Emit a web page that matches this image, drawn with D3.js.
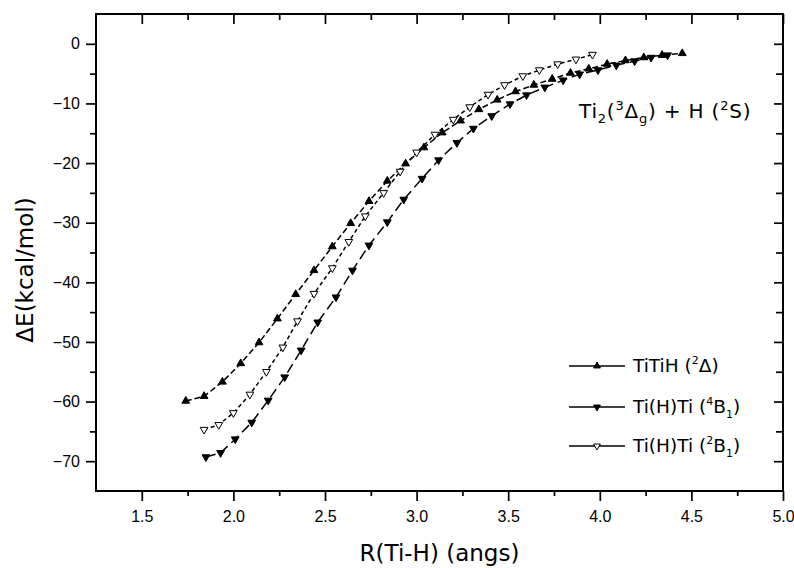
<!DOCTYPE html>
<html>
<head>
<meta charset="utf-8">
<script src="https://cdn.jsdelivr.net/npm/d3@7"></script>
<style>
  body { margin: 0; background: #fff; }
  svg { font-family: "DejaVu Sans", sans-serif; }
</style>
</head>
<body>
<svg id="chart"></svg>
<script>
// TiTiH (2Delta)
const titihR = [1.74, 1.84, 1.94, 2.04, 2.14, 2.24, 2.34, 2.44, 2.54, 2.64, 2.74, 2.84, 2.94, 3.04,
  3.14, 3.24, 3.34, 3.44, 3.54, 3.64, 3.74, 3.84, 3.94, 4.04, 4.14, 4.24, 4.34, 4.45];
const titihE = [-59.9, -59.1, -56.7, -53.6, -50.1, -46.1, -42.0, -38.0, -34.0, -30.1, -26.4, -23.0, -20.1, -17.4,
  -14.9, -12.9, -11.0, -9.4, -8.0, -6.9, -5.9, -4.9, -4.2, -3.4, -2.8, -2.3, -1.9, -1.6];

// Ti(H)Ti (4B1)
const quartetR = [1.85, 1.93, 2.01, 2.10, 2.19, 2.28, 2.37, 2.46, 2.56, 2.65, 2.74, 2.84, 2.93, 3.03,
  3.12, 3.22, 3.31, 3.41, 3.51, 3.60, 3.70, 3.80, 3.89, 3.99, 4.09, 4.19, 4.28, 4.37];
const quartetE = [-69.3, -68.6, -66.3, -63.5, -59.8, -55.9, -51.4, -46.7, -42.5, -38.0, -33.8, -29.9, -26.1, -22.6,
  -19.5, -16.6, -14.2, -12.1, -10.1, -8.6, -7.3, -6.1, -5.1, -4.4, -3.6, -2.9, -2.3, -1.9];

// Ti(H)Ti (2B1)
const doubletR = [1.84, 1.92, 2.00, 2.09, 2.18, 2.27, 2.35, 2.44, 2.54, 2.63, 2.72, 2.82, 2.91, 3.00,
  3.10, 3.20, 3.29, 3.39, 3.48, 3.58, 3.67, 3.77, 3.87, 3.96];
const doubletE = [-64.7, -63.9, -61.9, -58.8, -55.0, -50.9, -46.5, -41.9, -37.6, -33.2, -28.9, -25.0, -21.4, -18.2,
  -15.2, -12.7, -10.6, -8.5, -6.9, -5.4, -4.4, -3.4, -2.6, -1.8];

const xMajorTicks = [1.5, 2.0, 2.5, 3.0, 3.5, 4.0, 4.5, 5.0];
const xMinorTicks = [1.75, 2.25, 2.75, 3.25, 3.75, 4.25, 4.75];
const yMajorTicks = [-70, -60, -50, -40, -30, -20, -10, 0];
const yMinorTicks = [-65, -55, -45, -35, -25, -15, -5];

function toPoints(xs, ys) {
  return xs.map((r, i) => ({ r: r, e: ys[i] }));
}

const series = [
  { name: 'TiTiH', sup: '2', state: 'Δ', sub: '', points: toPoints(titihR, titihE), marker: 'up', fill: '#000', dash: '6,3' },
  { name: 'Ti(H)Ti', sup: '4', state: 'B', sub: '1', points: toPoints(quartetR, quartetE), marker: 'down', fill: '#000', dash: '10,5' },
  { name: 'Ti(H)Ti', sup: '2', state: 'B', sub: '1', points: toPoints(doubletR, doubletE), marker: 'down', fill: '#fff', dash: '4,3' }
];

const size = { width: 794, height: 568 };
const plot = { left: 96, right: 783, top: 14, bottom: 491 };

const svg = d3.select('#chart').attr('width', size.width).attr('height', size.height);

const xScale = d3.scaleLinear().domain([1.25, 5.0]).range([plot.left, plot.right]);
const yScale = d3.scaleLinear().domain([-75, 5]).range([plot.bottom, plot.top]);

function styleAxis(g) {
  g.select('.domain').remove();
  g.selectAll('.tick line').attr('stroke', '#000').attr('stroke-width', 1.7);
  g.selectAll('.tick text').attr('fill', '#000').attr('font-size', 16);
}

function drawAxes() {
  // bottom
  svg.append('g').attr('transform', `translate(0,${plot.bottom})`)
    .call(d3.axisBottom(xScale).tickValues(xMajorTicks).tickSize(10).tickPadding(10).tickFormat(d3.format('.1f')))
    .call(styleAxis);
  svg.append('g').attr('transform', `translate(0,${plot.bottom})`)
    .call(d3.axisBottom(xScale).tickValues(xMinorTicks).tickSize(5).tickFormat(''))
    .call(styleAxis);
  // top, inward
  svg.append('g').attr('transform', `translate(0,${plot.top})`)
    .call(d3.axisBottom(xScale).tickValues(xMajorTicks).tickSize(10).tickFormat(''))
    .call(styleAxis);
  svg.append('g').attr('transform', `translate(0,${plot.top})`)
    .call(d3.axisBottom(xScale).tickValues(xMinorTicks).tickSize(6).tickFormat(''))
    .call(styleAxis);
  // left
  svg.append('g').attr('transform', `translate(${plot.left},0)`)
    .call(d3.axisLeft(yScale).tickValues(yMajorTicks).tickSize(10).tickPadding(6))
    .call(styleAxis);
  svg.append('g').attr('transform', `translate(${plot.left},0)`)
    .call(d3.axisLeft(yScale).tickValues(yMinorTicks).tickSize(6).tickFormat(''))
    .call(styleAxis);
  // right, inward
  svg.append('g').attr('transform', `translate(${plot.right},0)`)
    .call(d3.axisLeft(yScale).tickValues(yMajorTicks).tickSize(9).tickFormat(''))
    .call(styleAxis);
  svg.append('g').attr('transform', `translate(${plot.right},0)`)
    .call(d3.axisLeft(yScale).tickValues(yMinorTicks).tickSize(7).tickFormat(''))
    .call(styleAxis);

  svg.append('rect')
    .attr('x', plot.left).attr('y', plot.top)
    .attr('width', plot.right - plot.left).attr('height', plot.bottom - plot.top)
    .attr('fill', 'none').attr('stroke', '#000').attr('stroke-width', 2);
}

function drawTitles() {
  svg.append('text')
    .attr('x', (plot.left + plot.right) / 2).attr('y', 561)
    .attr('text-anchor', 'middle').attr('font-size', 23)
    .text('R(Ti-H) (angs)');

  svg.append('text')
    .attr('transform', 'translate(33,270) rotate(-90)')
    .attr('text-anchor', 'middle').attr('font-size', 23)
    .text('ΔE(kcal/mol)');

  const note = svg.append('text').attr('x', 579).attr('y', 118)
    .attr('font-size', 20).attr('letter-spacing', 0.8);
  note.append('tspan').text('Ti');
  note.append('tspan').attr('dy', 5).attr('font-size', 13).text('2');
  note.append('tspan').attr('dy', -5).text('(');
  note.append('tspan').attr('dy', -8).attr('font-size', 13).text('3');
  note.append('tspan').attr('dy', 8).text('Δ');
  note.append('tspan').attr('dy', 5).attr('font-size', 13).text('g');
  note.append('tspan').attr('dy', -5).text(') + H (');
  note.append('tspan').attr('dy', -8).attr('font-size', 13).text('2');
  note.append('tspan').attr('dy', 8).text('S)');
}

function markerPath(s) {
  return d3.symbol().type(d3.symbolTriangle).size(26)();
}

function markerTransform(s, px, py) {
  return s.marker === 'down' ? `translate(${px},${py}) rotate(180)` : `translate(${px},${py})`;
}

function drawSeries() {
  const line = d3.line().x(d => xScale(d.r)).y(d => yScale(d.e)).curve(d3.curveLinear);
  series.forEach(s => {
    svg.append('path')
      .attr('d', line(s.points))
      .attr('fill', 'none')
      .attr('stroke', '#000')
      .attr('stroke-width', 1.5)
      .attr('stroke-dasharray', s.dash);
  });
  series.forEach(s => {
    svg.append('g').selectAll('path')
      .data(s.points)
      .enter()
      .append('path')
      .attr('d', markerPath(s))
      .attr('transform', d => markerTransform(s, xScale(d.r), yScale(d.e)))
      .attr('fill', s.fill)
      .attr('stroke', '#000')
      .attr('stroke-width', 1);
  });
}

function drawLegend() {
  const rowsY = [366, 407, 446];
  series.forEach((s, i) => {
    const y = rowsY[i];
    svg.append('line')
      .attr('x1', 569).attr('x2', 625).attr('y1', y).attr('y2', y)
      .attr('stroke', '#000').attr('stroke-width', 1.4);
    svg.append('path')
      .attr('d', d3.symbol().type(d3.symbolTriangle).size(20)())
      .attr('transform', markerTransform(s, 597, y))
      .attr('fill', s.fill).attr('stroke', '#000').attr('stroke-width', 1);
    const label = svg.append('text').attr('x', 633).attr('y', y + 6).attr('font-size', 18.5);
    label.append('tspan').text(`${s.name} (`);
    label.append('tspan').attr('dy', -8).attr('font-size', 11).text(s.sup);
    label.append('tspan').attr('dy', 8).text(s.state);
    if (s.sub) {
      label.append('tspan').attr('dy', 5).attr('font-size', 11).text(s.sub);
      label.append('tspan').attr('dy', -5).text(')');
    } else {
      label.append('tspan').text(')');
    }
  });
}

drawAxes();
drawSeries();
drawLegend();
drawTitles();
</script>
</body>
</html>
